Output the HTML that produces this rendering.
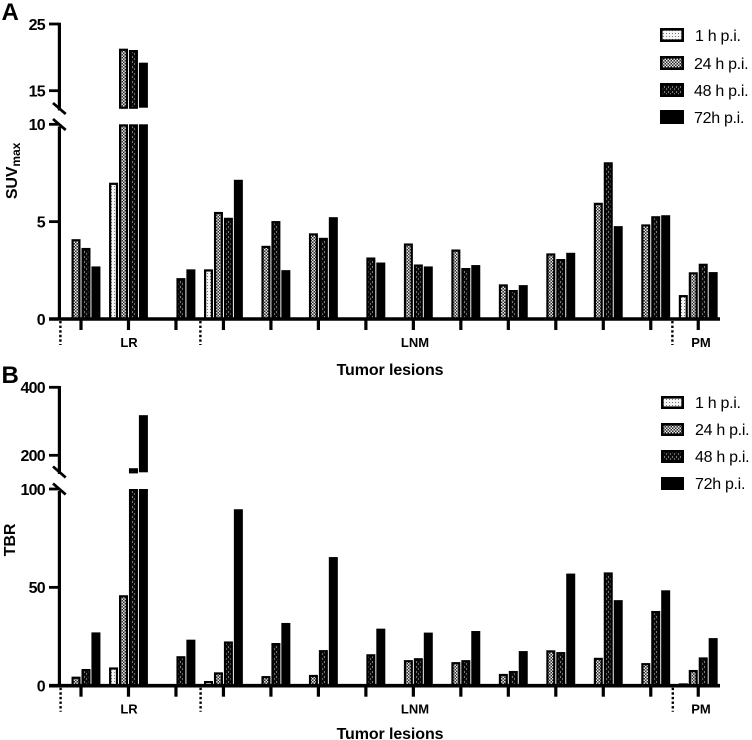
<!DOCTYPE html>
<html lang="en">
<head>
<meta charset="utf-8">
<title>SUVmax and TBR of tumor lesions</title>
<style>
html,body{margin:0;padding:0;background:#fff;width:752px;height:740px;overflow:hidden}
svg{display:block}
text{font-family:"Liberation Sans",Arial,sans-serif;fill:#000}
.tick{font-size:16px;font-weight:bold;letter-spacing:-.8px}
.lab{font-size:13px;font-weight:bold}
.title{font-size:16px;font-weight:bold;letter-spacing:-.1px}
.leg{font-size:16px;letter-spacing:-.3px}
.panel{font-size:24px;font-weight:bold}
</style>
</head>
<body>
<svg id="chart" xmlns="http://www.w3.org/2000/svg" width="752" height="740" viewBox="0 0 752 740">
<defs>
<pattern id="p1" width="3" height="3" patternUnits="userSpaceOnUse"><rect width="3" height="3" fill="#f6f6f6"/><rect width="1" height="1" fill="#777"/></pattern>
<pattern id="p24" width="3" height="3" patternUnits="userSpaceOnUse"><rect width="3" height="3" fill="#2c2c2c"/><rect width="1.5" height="1.5" fill="#e8e8e8"/><rect x="1.5" y="1.5" width="1.5" height="1.5" fill="#e8e8e8"/></pattern>
<pattern id="p48" width="4" height="5" patternUnits="userSpaceOnUse"><rect width="4" height="5" fill="#0c0c0c"/><rect x="0" y="1" width="1" height="2" fill="#777"/><rect x="2" y="3" width="1" height="2" fill="#666"/></pattern>
</defs>
<text class="panel" x="1.5" y="20">A</text>
<text class="panel" x="1.5" y="383">B</text>
<text class="title" transform="translate(17,171) rotate(-90)" text-anchor="middle">SUV<tspan font-size="12" dy="3">max</tspan></text>
<text class="title" transform="translate(15,540) rotate(-90)" text-anchor="middle">TBR</text>
<text class="title" x="390" y="375" text-anchor="middle">Tumor lesions</text>
<text class="title" x="390" y="739" text-anchor="middle">Tumor lesions</text>
<g id="legend-a">
<rect x="661.3" y="29.3" width="21.4" height="11.4" fill="url(#p1)" stroke="#000" stroke-width="2.6"/>
<text class="leg" x="695" y="41">1 h p.i.</text>
<rect x="661.3" y="57.3" width="21.4" height="11.4" fill="url(#p24)" stroke="#000" stroke-width="2.6"/>
<text class="leg" x="694" y="69">24 h p.i.</text>
<rect x="661.3" y="84.3" width="21.4" height="11.4" fill="url(#p48)" stroke="#000" stroke-width="2.6"/>
<text class="leg" x="694" y="96">48 h p.i.</text>
<rect x="661.3" y="111.3" width="21.4" height="11.4" fill="#000" stroke="#000" stroke-width="2.6"/>
<text class="leg" x="694" y="123">72h p.i.</text>
</g>
<g id="legend-b">
<rect x="662.3" y="397.3" width="20.4" height="10.4" fill="url(#p1)" stroke="#000" stroke-width="2.6"/>
<text class="leg" x="695" y="408">1 h p.i.</text>
<rect x="662.3" y="424.3" width="20.4" height="10.4" fill="url(#p24)" stroke="#000" stroke-width="2.6"/>
<text class="leg" x="695" y="435">24 h p.i.</text>
<rect x="662.3" y="451.3" width="20.4" height="10.4" fill="url(#p48)" stroke="#000" stroke-width="2.6"/>
<text class="leg" x="695" y="462">48 h p.i.</text>
<rect x="662.3" y="478.3" width="20.4" height="10.4" fill="#000" stroke="#000" stroke-width="2.6"/>
<text class="leg" x="695" y="489">72h p.i.</text>
</g>
</svg>
<script>
// Panel A: SUVmax per lesion (null = no measurement)
const suv1h  = [null,7.0,null,2.55,null,null,null,null,null,null,null,null,null,1.23];
const suv24h = [4.1,21.3,null,5.5,3.76,4.4,null,3.88,3.57,1.78,3.37,5.97,4.86,2.4];
const suv48h = [3.65,21.1,2.1,5.2,5.03,4.17,3.16,2.8,2.62,1.49,3.08,8.05,5.28,2.84];
const suv72h = [2.7,19.2,2.55,7.15,2.51,5.23,2.9,2.7,2.77,1.74,3.4,4.77,5.33,2.41];
const suvTicks = [0,5,10,15,25];
// Panel B: TBR per lesion
const tbr1h  = [null,9.3,null,2.4,null,null,null,null,null,null,null,null,null,1.2];
const tbr24h = [4.6,46,null,6.8,4.9,5.5,null,13,12,6,18,14.2,11.5,8];
const tbr48h = [8.5,162,15,22.5,21.7,18.1,16,14,13,7.5,17.1,57.6,38,14.4];
const tbr72h = [27.1,318,23.4,89.7,31.9,65.4,29,27,27.8,17.6,57,43.5,48.5,24.2];
const tbrTicks = [0,50,100,200,400];

const svg = document.getElementById('chart');
const NS = 'http://www.w3.org/2000/svg';
const fills = ['url(#p1)','url(#p24)','url(#p48)','#000'];
const seriesKeys = ['1h','24h','48h','72h'];

function make(tag, attrs, parent){
  const el = document.createElementNS(NS, tag);
  for (const k in attrs) el.setAttribute(k, attrs[k]);
  parent.appendChild(el);
  return el;
}
const xTick = i => 81 + i * 47.48;
const xBar = (i, s) => xTick(i) + (s - 1.5) * 9.95;

function drawPanel(cfg){
  const g = make('g', {}, svg);
  
  
  const yLow = v => cfg.y0 + (cfg.yLowTop - cfg.y0) * v / cfg.lowMax;
  const yUp = v => cfg.yUpA + (cfg.yUpB - cfg.yUpA) * (v - cfg.upA) / (cfg.upB - cfg.upA);
  const y = v => v <= cfg.lowMax ? yLow(v) : yUp(v);
  const bw = 9;

  cfg.series.forEach((vals, s) => {
    vals.forEach((v, i) => {
      if (v === null) return;
      const x = xBar(i, s) - bw / 2;
      const sw = s === 3 ? 0 : 2.2;
      const lowTop = yLow(Math.min(v, cfg.lowMax));
      const lower = make('rect', {x: x + sw / 2, y: lowTop + sw / 2, width: bw - sw, height: Math.max(cfg.y0 - lowTop - sw / 2, 0.5), fill: fills[s], stroke: '#000', 'stroke-width': sw}, g);
      
      
      if (v > cfg.lowMax) {
        const baseUp = yUp(cfg.upMin);
        const top = yUp(v);
        const upper = make('rect', {x: x + sw / 2, y: top + sw / 2, width: bw - sw, height: Math.max(baseUp - top - sw / 2, 0.5), fill: fills[s], stroke: '#000', 'stroke-width': sw}, g);
        
        
      }
    });
  });

  // y axis, two segments
  const axU = make('line', {x1: 59.4, x2: 59.4, y1: yUp(cfg.upB) - 1.3, y2: cfg.brk1 + 2, stroke: '#000', 'stroke-width': 3.2}, g);
  
  
  const axL = make('line', {x1: 59.4, x2: 59.4, y1: cfg.brk2 + 2, y2: cfg.y0, stroke: '#000', 'stroke-width': 3.2}, g);
  
  
  [cfg.brk1, cfg.brk2].forEach(b => {
    const m = make('line', {x1: 53, x2: 65.7, y1: b - 5.5, y2: b + 5.5, stroke: '#000', 'stroke-width': 2.8}, g);
    
    
  });

  // x axis
  const ax = make('line', {x1: 49, x2: 720, y1: cfg.y0, y2: cfg.y0, stroke: '#000', 'stroke-width': 3.6}, g);
  
  

  cfg.ticks.forEach(t => {
    const yy = y(t);
    if (t !== 0) {
      const m = make('line', {x1: 49, x2: 59.5, y1: yy, y2: yy, stroke: '#000', 'stroke-width': 2.8}, g);
      
      
    }
    const lab = make('text', {x: 44.8, y: yy + 5.8, 'text-anchor': 'end', class: 'tick'}, g);
    lab.textContent = t;
    
    
  });

  cfg.series[3].forEach((_, i) => {
    const m = make('line', {x1: xTick(i), x2: xTick(i), y1: cfg.y0, y2: cfg.y0 + 11, stroke: '#000', 'stroke-width': 3.2}, g);
    
    
  });

  cfg.dividers.forEach(dx => {
    const d = make('line', {x1: dx, x2: dx, y1: cfg.y0 + 2, y2: cfg.y0 + 26, stroke: '#000', 'stroke-width': 2.4, 'stroke-dasharray': '2.4 2.2'}, g);
    
    
  });

  cfg.groups.forEach(gr => {
    const t = make('text', {x: gr[1], y: cfg.y0 + 28, 'text-anchor': 'middle', class: 'lab'}, g);
    t.textContent = gr[0];
    
    
  });
}

drawPanel({
  name: 'panel-a-suvmax',
  series: [suv1h, suv24h, suv48h, suv72h],
  ticks: suvTicks,
  y0: 319, yLowTop: 124.3, lowMax: 10,
  yUpA: 90.7, yUpB: 24, upA: 15, upB: 25, upMin: 12.45,
  brk1: 108.5, brk2: 124.5,
  dividers: [60.4, 200.4, 672.4],
  groups: [['LR', 129], ['LNM', 415], ['PM', 701]]
});
drawPanel({
  name: 'panel-b-tbr',
  series: [tbr1h, tbr24h, tbr48h, tbr72h],
  ticks: tbrTicks,
  y0: 685.7, yLowTop: 489, lowMax: 100,
  yUpA: 455.3, yUpB: 387.3, upA: 200, upB: 400, upMin: 150,
  brk1: 472, brk2: 489,
  dividers: [60.6, 200.6, 672.8],
  groups: [['LR', 129], ['LNM', 415], ['PM', 701]]
});
</script>
</body>
</html>
